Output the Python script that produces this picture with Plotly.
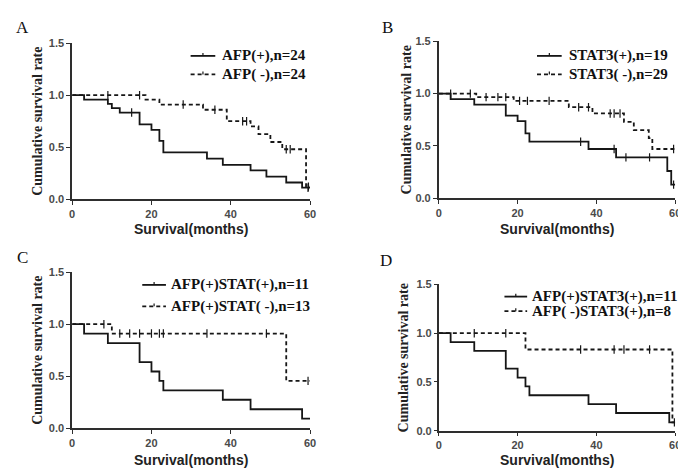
import plotly.graph_objects as go

W, H = 686, 470

# ---------------- data ----------------
# Panel A
A_pos_name = "AFP(+),n=24"
A_pos_t = [3, 9, 10, 12, 17, 20, 22, 23, 34, 38, 45, 49, 54, 58]
A_pos_s = [0.958, 0.917, 0.875, 0.833, 0.72, 0.667, 0.56, 0.45, 0.39, 0.33, 0.276, 0.217, 0.16, 0.11]
A_pos_c = [15, 59.5]
A_neg_name = "AFP( -),n=24"
A_neg_t = [18.5, 22, 33, 39, 45, 47, 50, 53, 59]
A_neg_s = [0.957, 0.91, 0.86, 0.75, 0.70, 0.625, 0.55, 0.48, 0.12]
A_neg_c = [9, 17, 28, 36, 43, 44, 54, 55, 59.6]

# Panel B
B_pos_name = "STAT3(+),n=19"
B_pos_t = [3, 9, 17, 20, 22, 23, 38, 45, 58, 59]
B_pos_s = [0.947, 0.895, 0.789, 0.737, 0.62, 0.54, 0.47, 0.39, 0.26, 0.13]
B_pos_c = [36, 44.5, 47.5, 53.5, 59.6]
B_neg_name = "STAT3( -),n=29"
B_neg_t = [9.5, 19, 33, 39, 47, 49.5, 53.3, 54.2]
B_neg_s = [0.966, 0.93, 0.87, 0.81, 0.73, 0.65, 0.575, 0.47]
B_neg_c = [3, 8, 12, 15, 17, 20.5, 22.5, 28, 35.5, 38, 43.5, 44.5, 46, 59.6]

# Panel C
C_pos_name = "AFP(+)STAT(+),n=11"
C_pos_t = [3, 9, 17, 20, 22, 23, 38, 45, 58]
C_pos_s = [0.909, 0.818, 0.636, 0.545, 0.455, 0.364, 0.273, 0.182, 0.091]
C_pos_c = []
C_neg_name = "AFP(+)STAT( -),n=13"
C_neg_t = [10, 54]
C_neg_s = [0.91, 0.455]
C_neg_c = [8, 12, 14.5, 17, 20, 22, 23, 34, 49, 59.5]

# Panel D
D_pos_name = "AFP(+)STAT3(+),n=11"
D_pos_t = [3, 9, 17, 20, 22, 23, 38, 45, 58.5]
D_pos_s = [0.909, 0.818, 0.636, 0.545, 0.455, 0.364, 0.273, 0.182, 0.086]
D_pos_c = []
D_neg_name = "AFP( -)STAT3(+),n=8"
D_neg_t = [22, 59.3]
D_neg_s = [0.833, 0.086]
D_neg_c = [9, 17, 36, 44.5, 47, 53.5, 59.8]

panel_letters = ["A", "B", "C", "D"]
x_title = "Survival(months)"
y_title = "Cumulative survival rate"
x_ticks = [0, 20, 40, 60]
y_ticks = [0.0, 0.5, 1.0, 1.5]
y_ticklabels = ["0.0", "0.5", "1.0", "1.5"]

# ---------------- layout geometry (pixels) ----------------
boxes = [(62, 303, 30, 190), (433.5, 673, 28, 189), (62, 303, 265, 425), (433.5, 673, 277.5, 427.7)]
letter_pos = [(12, 14), (381, 14), (12, 250), (380, 253)]
ytitle_x = [27, 401, 27, 398]
xtitle_y = [221, 221, 458, 458]
tick_len = [4, 4, 4, 3]
# legend: sample line start x, sample end x, text start x, row1 y, row2 y
legend_geo = [(182, 207, 212, 43, 62), (533, 558, 563, 43, 62), (133, 157, 160, 278, 300), (500, 523, 526, 290, 305)]

def xp(x):
    return x / W

def yp(y):
    return 1 - y / H

def step_value(ts, ss, t):
    v = 1.0
    for ti, si in zip(ts, ss):
        if t >= ti:
            v = si
    return v

panels = [
    (A_pos_name, A_pos_t, A_pos_s, A_pos_c, A_neg_name, A_neg_t, A_neg_s, A_neg_c),
    (B_pos_name, B_pos_t, B_pos_s, B_pos_c, B_neg_name, B_neg_t, B_neg_s, B_neg_c),
    (C_pos_name, C_pos_t, C_pos_s, C_pos_c, C_neg_name, C_neg_t, C_neg_s, C_neg_c),
    (D_pos_name, D_pos_t, D_pos_s, D_pos_c, D_neg_name, D_neg_t, D_neg_s, D_neg_c),
]

fig = go.Figure()
LINE = "#161616"
AX = "#2e2e2e"
DASH = "4px,3px"
LW = 1.8

layout_axes = {}
annotations = []
shapes = []
for i, (pn, pt, ps, pc, nn, nt, ns, nc) in enumerate(panels):
    k = "" if i == 0 else str(i + 1)
    xa, ya = "x" + k, "y" + k
    for name, ts, ss, cs, dash in [(pn, pt, ps, pc, "solid"), (nn, nt, ns, nc, DASH)]:
        xs = [0] + ts + [60]
        ys = [1.0] + ss + [ss[-1]]
        fig.add_trace(go.Scatter(x=xs, y=ys, mode="lines", name=name,
                                 line=dict(color=LINE, width=LW, dash=dash, shape="hv"),
                                 xaxis=xa, yaxis=ya, showlegend=False, hoverinfo="skip"))
        if cs:
            fig.add_trace(go.Scatter(x=cs, y=[step_value(ts, ss, c) for c in cs], mode="markers",
                                     marker=dict(symbol="line-ns-open", size=6, color=LINE,
                                                 line=dict(color=LINE, width=1.2)),
                                     xaxis=xa, yaxis=ya, showlegend=False, hoverinfo="skip"))
    l, r, t, b = boxes[i]
    axis_common = dict(showline=True, linewidth=1.8, linecolor=AX, ticks="outside", ticklen=tick_len[i], tickwidth=1.4,
                       tickcolor=AX, showgrid=False, zeroline=False,
                       tickfont=dict(family="Liberation Sans", size=11, color="#4a4a4a", weight="bold"))
    layout_axes["xaxis" + k] = dict(domain=[xp(l), xp(r)], range=[0, 60], tickvals=x_ticks, anchor=ya, **axis_common)
    layout_axes["yaxis" + k] = dict(domain=[yp(b), yp(t)], range=[0, 1.5], tickvals=y_ticks, ticktext=y_ticklabels,
                                    anchor=xa, **axis_common)

    # manual legend (sample line + censor tick + label)
    sx0, sx1, tx, r1, r2 = legend_geo[i]
    for name, dash, ry in [(pn, "solid", r1), (nn, DASH, r2)]:
        shapes.append(dict(type="line", xref="paper", yref="paper", x0=xp(sx0), x1=xp(sx1), y0=yp(ry), y1=yp(ry),
                           line=dict(color=LINE, width=LW, dash=dash)))
        mx = (sx0 + sx1) / 2
        shapes.append(dict(type="line", xref="paper", yref="paper", x0=xp(mx), x1=xp(mx), y0=yp(ry), y1=yp(ry - 3),
                           line=dict(color=LINE, width=1.2)))
        annotations.append(dict(text=name, x=xp(tx), y=yp(ry), xref="paper", yref="paper", xanchor="left",
                                yanchor="middle", showarrow=False,
                                font=dict(family="Liberation Serif", size=15, color="#111", weight="bold")))

    annotations.append(dict(text=panel_letters[i], x=xp(letter_pos[i][0]), y=yp(letter_pos[i][1]), xref="paper",
                            yref="paper", xanchor="center", yanchor="middle", showarrow=False,
                            font=dict(family="Liberation Serif", size=17, color="#111")))
    annotations.append(dict(text=y_title, x=xp(ytitle_x[i]), y=yp((t + b) / 2), xref="paper", yref="paper",
                            xanchor="center", yanchor="middle", showarrow=False, textangle=-90,
                            font=dict(family="Liberation Serif", size=14, color="#222", weight="bold")))
    annotations.append(dict(text=x_title, x=xp((l + r) / 2), y=yp(xtitle_y[i]), xref="paper", yref="paper",
                            xanchor="center", yanchor="middle", showarrow=False,
                            font=dict(family="Liberation Sans", size=14, color="#222", weight="bold")))

fig.update_layout(width=W, height=H, margin=dict(l=0, r=0, t=0, b=0), paper_bgcolor="white", plot_bgcolor="white",
                  showlegend=False, annotations=annotations, shapes=shapes, **layout_axes)
fig.write_html("out.html")
